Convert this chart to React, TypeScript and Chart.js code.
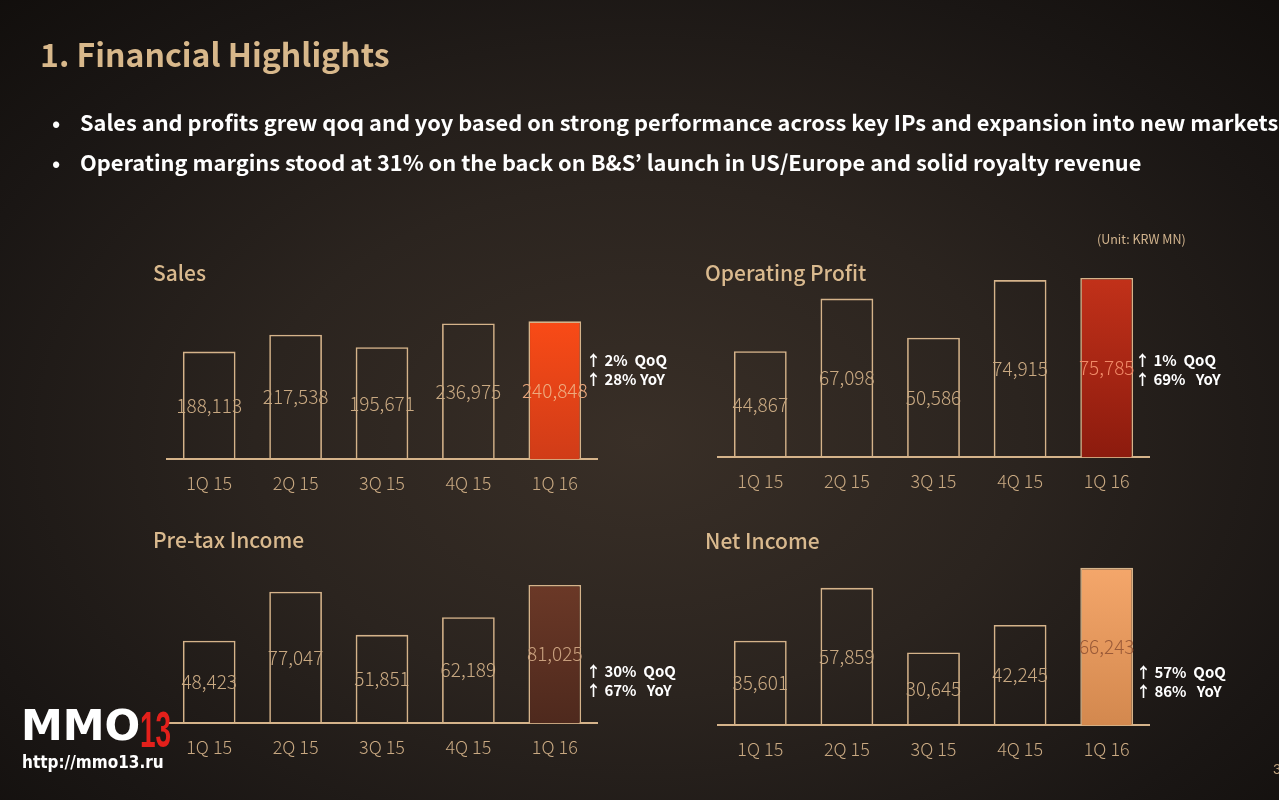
import React, { useEffect, useRef } from "react";
import { Chart, registerables } from "chart.js";

Chart.register(...registerables);

const categories = ["1Q 15", "2Q 15", "3Q 15", "4Q 15", "1Q 16"];
const salesValues = [188113, 217538, 195671, 236975, 240848];
const opProfitValues = [44867, 67098, 50586, 74915, 75785];
const preTaxValues = [48423, 77047, 51851, 62189, 81025];
const netIncomeValues = [35601, 57859, 30645, 42245, 66243];

const salesNotes = ["↑ 2%  QoQ", "↑ 28% YoY"];
const opProfitNotes = ["↑ 1%  QoQ", "↑ 69%   YoY"];
const preTaxNotes = ["↑ 30%  QoQ", "↑ 67%   YoY"];
const netIncomeNotes = ["↑ 57%  QoQ", "↑ 86%   YoY"];

const TAN = "#d5b38a";
const LABEL_TAN = "#c9a982";
const SANS = "'Noto Sans CJK KR', 'Noto Sans', sans-serif";

type Panel = {
  title: string;
  values: number[];
  notes: string[];
  left: number;
  top: number;
  bottom: number;
  width: number;
  yMax: number;
  grad: [string, string];
  hiLabel: string;
  titleX: number;
  titleY: number;
  noteX: number;
  noteY: number;
};

const panels: Panel[] = [
  {
    title: "Sales", values: salesValues, notes: salesNotes,
    left: 166, top: 300, bottom: 460, width: 432, yMax: 278000,
    grad: ["#ff4d16", "#d03c18"], hiLabel: "#eeaa7e",
    titleX: 153, titleY: 272, noteX: 586, noteY: 350,
  },
  {
    title: "Operating Profit", values: opProfitValues, notes: opProfitNotes,
    left: 717, top: 270, bottom: 458, width: 433, yMax: 79150,
    grad: ["#c4321a", "#8c1b0e"], hiLabel: "#f08a68",
    titleX: 705, titleY: 272, noteX: 1135, noteY: 350,
  },
  {
    title: "Pre-tax Income", values: preTaxValues, notes: preTaxNotes,
    left: 166, top: 570, bottom: 724, width: 432, yMax: 89780,
    grad: ["#6e3a28", "#4e291d"], hiLabel: "#c9a07e",
    titleX: 153, titleY: 539, noteX: 586, noteY: 661,
  },
  {
    title: "Net Income", values: netIncomeValues, notes: netIncomeNotes,
    left: 717, top: 560, bottom: 726, width: 433, yMax: 69550,
    grad: ["#f6a86c", "#d3884e"], hiLabel: "#9a5a38",
    titleX: 705, titleY: 540, noteX: 1136, noteY: 662,
  },
];

const AXIS_H = 47;

const valueLabelPlugin = {
  id: "valueLabels",
  afterDatasetsDraw(chart: any, _args: any, opts: any) {
    const ctx = chart.ctx;
    const meta = chart.getDatasetMeta(0);
    const data = chart.data.datasets[0].data as number[];
    ctx.save();
    ctx.font = "300 19px 'Noto Sans CJK KR', Lato, 'DejaVu Sans'";
    ctx.textAlign = "center";
    ctx.textBaseline = "middle";
    meta.data.forEach((el: any, i: number) => {
      const y = (el.y + el.base) / 2;
      ctx.fillStyle = i === data.length - 1 ? opts.hiLabel : LABEL_TAN;
      ctx.fillText(data[i].toLocaleString("en-US"), el.x, y);
    });
    ctx.restore();
  },
};

function BarPanel({ p }: { p: Panel }) {
  const ref = useRef<HTMLCanvasElement | null>(null);
  useEffect(() => {
    if (!ref.current) return;
    const last = p.values.length - 1;
    const chart = new Chart(ref.current, {
      type: "bar",
      data: {
        labels: categories,
        datasets: [
          {
            data: p.values,
            backgroundColor: (c: any) => {
              if (c.dataIndex !== last) return "rgba(0,0,0,0)";
              const area = c.chart.chartArea;
              if (!area) return p.grad[0];
              const g = c.chart.ctx.createLinearGradient(0, area.top, 0, area.bottom);
              g.addColorStop(0, p.grad[0]);
              g.addColorStop(1, p.grad[1]);
              return g;
            },
            borderColor: TAN,
            borderWidth: 1.6,
            barPercentage: 0.61,
            categoryPercentage: 1,
          },
        ],
      },
      options: {
        responsive: false,
        animation: false,
        layout: { padding: 0 },
        plugins: {
          legend: { display: false },
          tooltip: { enabled: false },
          valueLabels: { hiLabel: p.hiLabel },
        } as any,
        scales: {
          x: {
            grid: { display: false, drawTicks: false },
            border: { display: true, color: TAN, width: 2 },
            ticks: {
              color: LABEL_TAN,
              padding: 13,
              font: { family: "'Noto Sans CJK KR', Lato, 'DejaVu Sans'", size: 18, weight: "300" as any, lineHeight: 1.2 },
            },
          },
          y: { display: false, min: 0, max: p.yMax },
        },
      },
      plugins: [valueLabelPlugin],
    });
    return () => chart.destroy();
  }, []);
  const h = p.bottom - p.top + AXIS_H;
  return (
    <>
      <div
        style={{
          position: "absolute", left: p.titleX, top: p.titleY - 15,
          font: `500 21px ${SANS}`, color: "#d9b98e", lineHeight: "30px",
        }}
      >
        {p.title}
      </div>
      <canvas
        ref={ref}
        width={p.width}
        height={h}
        style={{ position: "absolute", left: p.left, top: p.top, width: p.width, height: h }}
      />
      <div
        style={{
          position: "absolute", left: p.noteX, top: p.noteY,
          font: `bold 15px ${SANS}`, color: "#ffffff",
          lineHeight: "19px", whiteSpace: "pre",
        }}
      >
        {p.notes.map((n, i) => (
          <div key={i}>{n}</div>
        ))}
      </div>
    </>
  );
}

export default function App() {
  return (
    <div
      style={{
        position: "fixed", left: 0, top: 0, width: 1279, height: 800, overflow: "hidden",
        background:
          "radial-gradient(ellipse 75% 80% at 50% 55%, #392f27 0%, #2b241f 40%, #1a1614 75%, #100d0b 100%)",
        fontFamily: SANS,
      }}
    >
      <div
        style={{
          position: "absolute", left: 40, top: 31, font: `bold 32px ${SANS}`,
          color: "#d8b88b", lineHeight: "44px", whiteSpace: "nowrap",
        }}
      >
        1. Financial Highlights
      </div>
      <div
        style={{
          position: "absolute", left: 52, top: 102, font: `bold 21.8px ${SANS}`,
          color: "#ffffff", lineHeight: "40px", whiteSpace: "nowrap",
        }}
      >
        <div>
          <span style={{ display: "inline-block", width: 28 }}>•</span>
          Sales and profits grew qoq and yoy based on strong performance across key IPs and expansion into new markets
        </div>
        <div>
          <span style={{ display: "inline-block", width: 28 }}>•</span>
          Operating margins stood at 31% on the back on B&amp;S’ launch in US/Europe and solid royalty revenue
        </div>
      </div>
      <div
        style={{
          position: "absolute", left: 1097, top: 230, font: `12.5px ${SANS}`,
          color: "#d2b48e", lineHeight: "18px",
        }}
      >
        (Unit: KRW MN)
      </div>
      {panels.map((p) => (
        <BarPanel key={p.title} p={p} />
      ))}
      <div
        style={{
          position: "absolute", left: 21, top: 699, font: "bold 42px 'DejaVu Sans'",
          color: "#ffffff", lineHeight: "48px", whiteSpace: "nowrap",
        }}
      >
        MMO
        <span
          style={{
            display: "inline-block", color: "#e3201b", position: "relative", top: 7,
            font: "bold 50px 'Liberation Sans'", lineHeight: "48px", transform: "scaleX(0.56)", transformOrigin: "left center",
          }}
        >
          13
        </span>
      </div>
      <div
        style={{
          position: "absolute", left: 22, top: 751, font: "bold 17px 'DejaVu Sans Condensed', 'DejaVu Sans'",
          color: "#ffffff", lineHeight: "22px",
        }}
      >
        http://mmo13.ru
      </div>
      <div
        style={{
          position: "absolute", left: 1273, top: 760, font: "14px Lato", color: "#bfa27e",
        }}
      >
        3
      </div>
    </div>
  );
}
